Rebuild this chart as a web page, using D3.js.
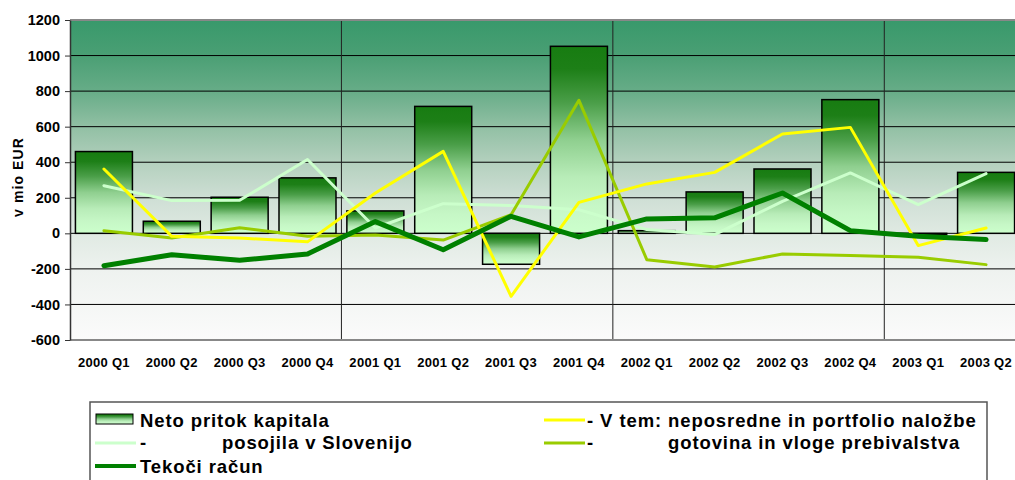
<!DOCTYPE html>
<html>
<head>
<meta charset="utf-8">
<script src="https://cdn.jsdelivr.net/npm/d3@7"></script>
<style>
  body { margin: 0; background: #fff; }
  svg { display: block; font-family: Arial, 'Liberation Sans', sans-serif; }
</style>
</head>
<body>
<div id="chart"></div>
<script>
const categories = ['2000 Q1', '2000 Q2', '2000 Q3', '2000 Q4', '2001 Q1', '2001 Q2', '2001 Q3',
    '2001 Q4', '2002 Q1', '2002 Q2', '2002 Q3', '2002 Q4', '2003 Q1', '2003 Q2']
const netoPritok = [460, 68, 203, 312, 126, 714, -174, 1052, 15, 233, 362, 752, -8, 343]
const nalozbe = [362, -17, -26, -48, 227, 461, -354, 174, 278, 343, 559, 596, -69, 30]
const posojila = [268, 184, 186, 415, 30, 167, 156, 133, 21, -7, 180, 340, 161, 336]
const gotovina = [15, -26, 32, -17, -9, -38, 105, 748, -148, -189, -116, -125, -135, -176]
const tekociRacun = [-182, -120, -152, -116, 66, -92, 96, -20, 81, 87, 227, 15, -17, -35]
const yTicks = [-600, -400, -200, 0, 200, 400, 600, 800, 1000, 1200]

const width = 1015
const height = 480
const plotLeft = 70, plotTop = 20, plotBottom = 340, plotRight = 1020

const svg = d3.select('#chart')
    .append('svg')
    .attr('width', width)
    .attr('height', height)

const defs = svg.append('defs')

// plot background: green fading to white
const bg = defs.append('linearGradient').attr('id', 'bg')
    .attr('x1', 0).attr('y1', 0).attr('x2', 0).attr('y2', 1)
;[[0, '#38996b'], [0.11, '#4a9f74'], [0.22, '#66ac87'], [0.33, '#90bfa3'],
  [0.45, '#b5d1bf'], [0.56, '#cfdfd5'], [0.67, '#e0eae3'], [0.78, '#eef2ef'], [1, '#fbfbfb']]
    .forEach(s => bg.append('stop').attr('offset', s[0]).attr('stop-color', s[1]))

// bar fill: dark green on top, pale green below
const barGrad = defs.append('linearGradient').attr('id', 'barGrad')
    .attr('x1', 0).attr('y1', 0).attr('x2', 0).attr('y2', 1)
;[[0, '#177c11'], [0.12, '#1d7f17'], [0.3, '#4a9e48'], [0.5, '#8fcf8f'],
  [0.7, '#b8ecb8'], [0.85, '#c6f7c6'], [1, '#ccffcc']]
    .forEach(s => barGrad.append('stop').attr('offset', s[0]).attr('stop-color', s[1]))

// Scales
const xScale = d3.scaleBand()
    .domain(categories)
    .range([plotLeft, plotRight])
    .paddingInner(0.16)
    .paddingOuter(0.08)
const step = xScale.step()
const bw = xScale.bandwidth()
const cx = d => xScale(d) + bw / 2

const yScale = d3.scaleLinear()
    .domain([-600, 1200])
    .range([plotBottom, plotTop])

svg.append('rect')
    .attr('x', plotLeft).attr('y', plotTop)
    .attr('width', plotRight - plotLeft).attr('height', plotBottom - plotTop)
    .attr('fill', 'url(#bg)')

// gridlines
svg.append('g')
    .selectAll('line')
    .data(yTicks.filter(v => v > -600 && v < 1200))
    .enter()
    .append('line')
    .attr('x1', plotLeft).attr('x2', plotRight)
    .attr('y1', d => yScale(d)).attr('y2', d => yScale(d))
    .attr('stroke', '#000')
    .attr('stroke-width', 1)

// year separators
svg.append('g')
    .selectAll('line')
    .data(['2001 Q1', '2002 Q1', '2003 Q1'])
    .enter()
    .append('line')
    .attr('x1', d => xScale(d) - (step - bw) / 2)
    .attr('x2', d => xScale(d) - (step - bw) / 2)
    .attr('y1', plotTop).attr('y2', plotBottom)
    .attr('stroke', '#222')
    .attr('stroke-width', 1)

// borders
svg.append('line')
    .attr('x1', plotLeft).attr('x2', plotRight).attr('y1', plotTop).attr('y2', plotTop)
    .attr('stroke', '#888').attr('stroke-width', 2)
svg.append('line')
    .attr('x1', plotLeft).attr('x2', plotRight).attr('y1', plotBottom).attr('y2', plotBottom)
    .attr('stroke', '#888').attr('stroke-width', 2)

// bars
svg.append('g')
    .selectAll('rect')
    .data(netoPritok)
    .enter()
    .append('rect')
    .attr('x', (d, i) => xScale(categories[i]))
    .attr('width', bw)
    .attr('y', d => yScale(Math.max(0, d)))
    .attr('height', d => Math.max(1, Math.abs(yScale(d) - yScale(0))))
    .attr('fill', 'url(#barGrad)')
    .attr('stroke', '#000')
    .attr('stroke-width', 1.5)

// lines
const series = [
    { values: posojila, color: '#ccffcc', w: 3 },
    { values: gotovina, color: '#99cc00', w: 3 },
    { values: nalozbe, color: '#ffff00', w: 3 },
    { values: tekociRacun, color: '#008000', w: 5 }
]
const line = d3.line()
    .x((d, i) => cx(categories[i]))
    .y(d => yScale(d))
series.forEach(s => {
    svg.append('path')
        .attr('d', line(s.values))
        .attr('fill', 'none')
        .attr('stroke', s.color)
        .attr('stroke-width', s.w)
        .attr('stroke-linejoin', 'round')
        .attr('stroke-linecap', 'round')
})

// Axes
const yAxis = d3.axisLeft(yScale)
    .tickValues(yTicks)
    .tickFormat(d => String(d))
    .tickSize(5)
    .tickSizeOuter(0)
    .tickPadding(5)
const yG = svg.append('g')
    .attr('transform', 'translate(' + plotLeft + ', 0)')
    .call(yAxis)
yG.select('.domain').attr('stroke', '#333').attr('stroke-width', 1.5)
yG.selectAll('.tick line').attr('stroke', '#333')
yG.selectAll('text')
    .attr('font-size', 14.5)
    .attr('font-weight', 'bold')
    .attr('fill', '#000')
    .attr('font-family', 'Arial, Liberation Sans, sans-serif')

svg.append('text')
    .attr('transform', 'translate(23,' + 177 + ') rotate(-90)')
    .attr('text-anchor', 'middle')
    .attr('font-size', 14)
    .attr('font-weight', 'bold')
    .attr('letter-spacing', 1.1)
    .text('v mio EUR')

svg.append('g')
    .selectAll('text')
    .data(categories)
    .enter()
    .append('text')
    .attr('x', d => cx(d))
    .attr('y', 367)
    .attr('text-anchor', 'middle')
    .attr('font-size', 13)
    .attr('font-weight', 'bold')
    .attr('letter-spacing', 0.3)
    .text(d => d)

// Legend
svg.append('rect')
    .attr('x', 90).attr('y', 402)
    .attr('width', 897).attr('height', 100)
    .attr('fill', '#fff')
    .attr('stroke', '#555')
    .attr('stroke-width', 1.5)

svg.append('rect')
    .attr('x', 96).attr('y', 414)
    .attr('width', 37).attr('height', 10)
    .attr('fill', 'url(#barGrad)')
    .attr('stroke', '#000')
    .attr('stroke-width', 1)

const legendLines = [
    { x: 95, y: 443, color: '#ccffcc', w: 3 },
    { x: 95, y: 466, color: '#008000', w: 4 },
    { x: 544, y: 420, color: '#ffff00', w: 3 },
    { x: 544, y: 443, color: '#99cc00', w: 3 }
]
legendLines.forEach(l => {
    svg.append('line')
        .attr('x1', l.x).attr('x2', l.x + 41)
        .attr('y1', l.y).attr('y2', l.y)
        .attr('stroke', l.color)
        .attr('stroke-width', l.w)
})

const legendTexts = [
    { parts: [[140, 'Neto pritok kapitala']], y: 427 },
    { parts: [[140, '-'], [222, 'posojila v Slovenijo']], y: 449 },
    { parts: [[140, 'Tekoči račun']], y: 473 },
    { parts: [[587, '- V tem: neposredne in portfolio naložbe']], y: 427 },
    { parts: [[587, '-'], [668, 'gotovina in vloge prebivalstva']], y: 449 }
]
legendTexts.forEach(t => {
    const txt = svg.append('text')
        .attr('y', t.y)
        .attr('font-size', 18.5)
        .attr('font-weight', 'bold')
        .attr('letter-spacing', 0.9)
    t.parts.forEach(p => txt.append('tspan').attr('x', p[0]).text(p[1]))
})
</script>
</body>
</html>
